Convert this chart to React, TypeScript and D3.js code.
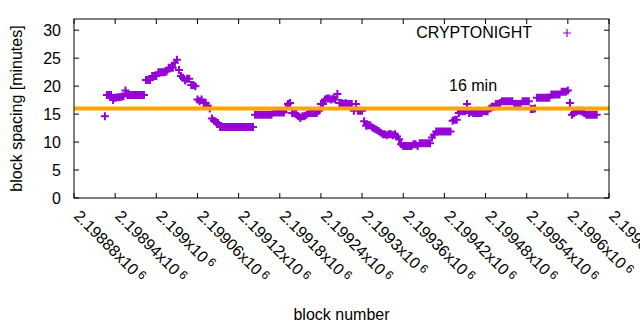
import React from "react";
import * as d3 from "d3";

// ---- data ----
const firstBlock = 2198925;
const blockStep = 3;
const spacingMinutes: number[] = [
  14.6,
  18.4, 18.4, 18.4,
  17.5, 17.9, 18.0, 18.0, 18.1, 18.2,
  19.2,
  18.4, 18.4, 18.4, 18.4, 18.4, 18.4, 18.4, 18.4, 18.4,
  21.1, 21.1, 21.1,
  21.8, 21.8, 21.8,
  22.5, 22.5, 22.5, 22.5, 22.6,
  23.3, 23.3, 23.3,
  24.2, 24.7, 22.9, 21.8, 21.5, 21.0, 21.3, 21.3,
  20.2, 20.2, 20.0,
  17.6, 17.3, 17.6, 17.0, 17.0, 16.5,
  16.0,
  14.2, 13.8, 13.6, 13.4,
  12.7, 12.7, 12.7, 12.7, 12.7, 12.7, 12.7, 12.7, 12.7, 12.7, 12.7, 12.7, 12.7, 12.7, 12.7, 12.7, 12.7,
  14.9, 14.9, 14.9, 14.9, 14.9, 14.9, 14.9, 14.9, 14.9,
  15.3, 15.3, 15.3, 15.3, 15.3, 15.3,
  16.0, 16.8, 17.0,
  15.2, 15.2, 15.0, 14.6,
  14.3, 14.6, 14.6, 14.9,
  15.2, 15.2, 15.2, 15.2, 15.2,
  15.6,
  16.8, 16.8,
  17.6, 17.8, 17.8, 17.6, 17.8, 17.6, 18.6,
  17.0, 17.0, 16.8, 17.0,
  16.8, 16.8, 16.8, 15.6, 16.8, 15.6, 15.6, 15.6,
  13.7,
  12.9, 13.0, 13.0, 12.6, 12.4,
  12.2, 12.0,
  11.7, 11.4, 11.4, 11.2, 11.4, 11.4, 11.2, 11.4, 11.0,
  10.5, 9.6,
  9.3, 9.3, 9.3, 9.3, 9.3,
  9.6, 9.6, 9.3,
  9.8, 9.8, 9.8, 9.8, 9.8, 9.8,
  10.8, 11.3,
  11.9, 11.9, 11.9, 11.9, 11.9, 11.9, 11.9, 11.9,
  13.8, 14.0, 14.0, 15.2,
  15.5, 15.5, 15.5, 16.8,
  15.2, 15.4, 15.2, 15.2, 15.2, 15.2, 15.2,
  15.5, 15.5, 15.5,
  16.0, 16.3, 16.3,
  16.8, 16.8, 17.0,
  17.3, 17.3, 17.3, 17.3, 17.3, 17.3,
  16.8, 16.8, 16.8, 16.8,
  17.3, 17.3, 17.3, 17.3,
  15.9, 15.9, 16.0,
  17.9, 17.9, 17.9, 17.9, 17.9, 17.9, 17.9,
  18.5, 18.5, 18.5, 18.5, 18.5,
  19.0, 19.0, 19.0, 19.2,
  17.0,
  14.9, 15.2, 15.4, 15.6, 15.6, 15.4, 15.2,
  14.9, 14.9, 14.9, 14.9, 14.9, 14.9,
];
const seriesName = "CRYPTONIGHT";
const targetMinutes = 16;
const targetLabel = "16 min";
const xTicks: number[] = [
  2198880, 2198940, 2199000, 2199060, 2199120, 2199180, 2199240,
  2199300, 2199360, 2199420, 2199480, 2199540, 2199600, 2199660,
];
const xTickMantissa: string[] = [
  "2.19888", "2.19894", "2.199", "2.19906", "2.19912", "2.19918", "2.19924",
  "2.1993", "2.19936", "2.19942", "2.19948", "2.19954", "2.1996", "2.19966",
];
const yTicks: number[] = [0, 5, 10, 15, 20, 25, 30];
const xDomain: [number, number] = [2198880, 2199660];
const yDomain: [number, number] = [0, 32];

const W = 640;
const H = 330;
const L = 74;
const R = 609;
const T = 19;
const B = 198;
const PURPLE = "#9400d3";
const ORANGE = "#ffa500";
const FONT = "'Liberation Sans', Arial, sans-serif";
const FS = 16;

export default function App() {
  const x = d3.scaleLinear().domain(xDomain).range([L, R]);
  const y = d3.scaleLinear().domain(yDomain).range([B, T]);
  const pts = spacingMinutes.map((v, i) => ({ b: firstBlock + i * blockStep, v }));
  const cross = (cx: number, cy: number, s = 4) =>
    `M${cx - s},${cy}H${cx + s}M${cx},${cy - s}V${cy + s}`;
  const tl = 5;

  return (
    <svg
      width={W}
      height={H}
      style={{ position: "absolute", left: 0, top: 0 }}
      fontFamily={FONT}
      fontSize={FS}
    >
      <rect width={W} height={H} fill="#fff" />
      {/* ticks */}
      {yTicks.map((t) => (
        <g key={"y" + t}>
          <line x1={L} x2={L + tl} y1={y(t)} y2={y(t)} stroke="#000" />
          <line x1={R} x2={R - tl} y1={y(t)} y2={y(t)} stroke="#000" />
          <text x={61} y={y(t) + 5.5} textAnchor="end" fill="#000">
            {t}
          </text>
        </g>
      ))}
      {xTicks.map((t, i) => (
        <g key={"x" + t}>
          <line x1={x(t)} x2={x(t)} y1={B} y2={B - tl} stroke="#000" />
          <line x1={x(t)} x2={x(t)} y1={T} y2={T + tl} stroke="#000" />
          <text
            transform={`translate(${x(t) - 1},${217}) rotate(45)`}
            textAnchor="start"
            fill="#000"
          >
            {xTickMantissa[i] + "x10"}
            <tspan dx={3} dy={-4} fontSize={12}>
              6
            </tspan>
          </text>
        </g>
      ))}
      {/* points */}
      <path
        d={pts.map((p) => cross(x(p.b), y(p.v))).join("")}
        stroke={PURPLE}
        strokeWidth={2}
        fill="none"
      />
      {/* target line */}
      <line
        x1={x(xDomain[0])}
        x2={x(xDomain[1])}
        y1={y(targetMinutes)}
        y2={y(targetMinutes)}
        stroke={ORANGE}
        strokeWidth={4}
      />
      <text x={449} y={91} fill="#000">
        {targetLabel}
      </text>
      {/* legend */}
      <text x={532} y={38} textAnchor="end" fill="#000">
        {seriesName}
      </text>
      <path d={cross(567, 33)} stroke={PURPLE} strokeWidth={1.2} fill="none" />
      {/* border */}
      <rect x={L} y={T} width={R - L} height={B - T} fill="none" stroke="#000" />
      {/* axis labels */}
      <text x={(L + R) / 2} y={320} textAnchor="middle" fill="#000">
        block number
      </text>
      <text
        transform={`translate(22,${(T + B) / 2}) rotate(-90)`}
        textAnchor="middle"
        fill="#000"
      >
        block spacing [minutes]
      </text>
    </svg>
  );
}
